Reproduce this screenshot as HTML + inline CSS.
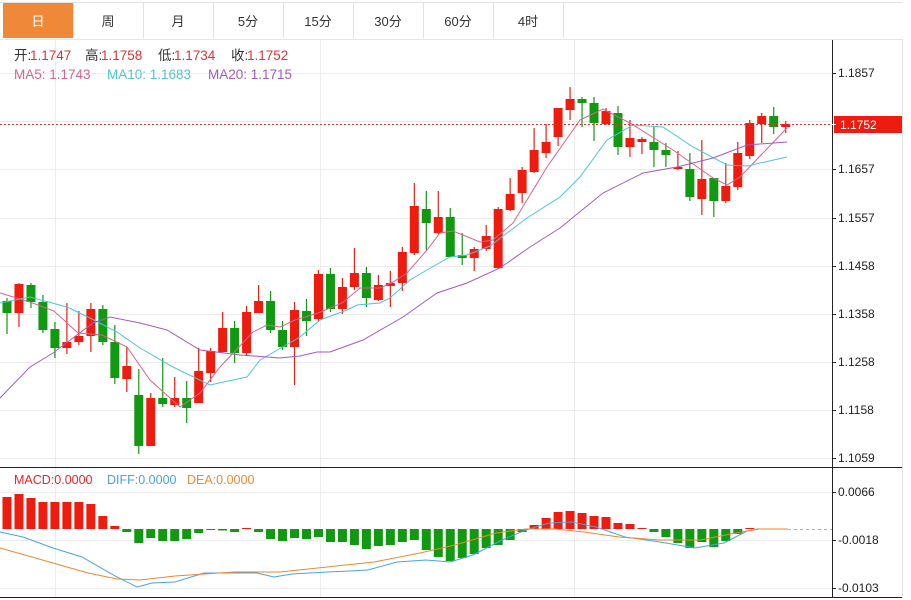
<!DOCTYPE html>
<html><head><meta charset="utf-8"><style>
html,body{margin:0;padding:0;background:#fff;width:911px;height:600px;overflow:hidden;font-family:"Liberation Sans","Noto Sans CJK SC",sans-serif}
svg{position:absolute;left:0;top:0}
</style></head><body>
<svg id="s" width="911" height="600" xmlns="http://www.w3.org/2000/svg" font-family="Liberation Sans, Noto Sans CJK SC, sans-serif"></svg>
<script>
var s='';
function L(x1,y1,x2,y2,c,w,d){s+='<line x1="'+x1+'" y1="'+y1+'" x2="'+x2+'" y2="'+y2+'" stroke="'+c+'" stroke-width="'+(w||1)+'"'+(d?' stroke-dasharray="'+d+'"':'')+'/>';}
function R(x,y,w,h,f,st){s+='<rect x="'+x+'" y="'+y+'" width="'+w+'" height="'+h+'" fill="'+f+'"'+(st?' stroke="'+st+'"':'')+'/>';}
function T(x,y,t,c,sz,a){s+='<text x="'+x+'" y="'+y+'" fill="'+c+'" font-size="'+(sz||12)+'"'+(a?' text-anchor="'+a+'"':'')+'>'+t+'</text>';}
function P(pts,c,w){s+='<polyline fill="none" stroke="'+c+'" stroke-width="'+(w||1)+'" points="'+pts.map(function(p){return p.join(',')}).join(' ')+'"/>';}
var tabs=['日','周','月','5分','15分','30分','60分','4时'];
L(0,2.5,902,2.5,'#e2e2e2');
for(var i=0;i<8;i++){var x=3+i*70;
 if(i==0)R(x,3,70,35,'#f0883a');
 L(x+70.5,3,x+70.5,38,'#e2e2e2');
 T(x+35,26,tabs[i],i==0?'#fff':'#333',13,'middle');}
L(0,39.5,902,39.5,'#e6e6e6');L(902.5,39,902.5,598,'#e6e6e6');
[73,121,169,218,266,314,362,410,458].forEach(function(y){L(0,y+.5,832,y+.5,'#ececec');});
[492,540,588].forEach(function(y){L(0,y+.5,832,y+.5,'#ececec');});
[55,320,574].forEach(function(x){L(x+.5,40,x+.5,598,'#ececec');});
var G='#119911',Rd='#ee1c0e';
var c=[[301,313,298,334,G],[313,284,283,327,Rd],[285,302,283,308,G],[302,330,295,333,G],[329,348,322,358,G],[348,342,303,354,Rd],[342,336,311,345,Rd],[336,309,303,352,Rd],[309,342,305,345,G],[342,378,325,384,G],[379,366,347,392,Rd],[395,446,369,454,G],[446,398,393,446,Rd],[398,404,358,407,G],[405,398,377,407,Rd],[398,408,381,423,G],[403,371,348,403,Rd],[373,351,348,382,Rd],[352,328,312,353,Rd],[328,353,321,363,G],[353,312,306,355,Rd],[313,301,285,313,Rd],[301,330,291,333,G],[330,347,321,350,G],[347,310,302,385,Rd],[311,321,299,336,G],[319,274,270,322,Rd],[274,309,268,312,G],[309,287,278,314,Rd],[287,273,248,290,Rd],[273,298,267,307,G],[300,285,275,301,Rd],[286,283,271,307,Rd],[283,252,247,291,Rd],[253,206,183,255,Rd],[209,223,191,250,G],[233,217,191,234,Rd],[217,257,208,257,G],[256,257,233,265,G],[258,249,247,271,Rd],[249,236,225,251,Rd],[268,209,207,269,Rd],[210,194,178,211,Rd],[193,170,167,203,Rd],[172,150,128,173,Rd],[153,142,124,158,Rd],[137,108,108,146,Rd],[110,99,87,120,Rd],[99,103,97,127,G],[103,123,97,141,G],[124,111,108,125,Rd],[113,147,106,155,G],[147,138,120,157,Rd],[141,140,137,154,Rd],[142,150,127,167,G],[150,155,143,167,G],[169,167,151,170,Rd],[169,197,153,201,G],[199,179,140,215,Rd],[178,201,178,217,G],[201,186,163,203,Rd],[187,153,142,190,Rd],[156,123,120,159,Rd],[124,116,113,143,Rd],[116,127,107,134,G],[127,124,121,133,Rd]];
c.forEach(function(d,i){var x=7+i*11.98;
 L(x,d[2],x,d[3],d[4],1.2);
 var t=Math.min(d[0],d[1]),b=Math.max(d[0],d[1]);if(b-t<2){t-=1;b+=1;}
 R(x-4.5,t,9,b-t,d[4]);});
P([[0,293],[30,302],[54,311],[78,333],[102,335],[127,347],[150,380],[180,407],[200,393],[220,367],[253,332],[267,325],[280,327],[295,320],[318,313],[342,303],[360,288],[380,288],[393,282],[407,273],[427,250],[440,233],[453,231],[480,242],[493,240],[513,223],[547,167],[580,120],[603,109],[630,123],[673,150],[713,178],[727,185],[740,177],[787,128]],'#d9628e');
P([[0,303],[30,297],[67,307],[90,318],[117,332],[140,348],[173,367],[210,385],[247,377],[260,360],[300,337],[320,320],[347,310],[357,305],[380,303],[390,298],[410,280],[427,270],[450,257],[467,255],[490,246],[507,233],[527,218],[560,197],[580,177],[607,140],[633,125],[663,127],[693,147],[727,165],[747,166],[787,157]],'#4fc3d3');
P([[0,398],[30,367],[53,353],[93,323],[110,317],[140,323],[167,330],[200,350],[240,355],[280,358],[300,356],[317,352],[330,352],[363,340],[403,317],[437,293],[467,283],[500,268],[530,247],[560,228],[603,193],[643,173],[677,167],[713,158],[747,145],[787,142]],'#a45ac0');
L(0,124.5,832,124.5,'#e03030',1,'2,2');
var mb=[497,494,498,502,502,502,502,504,516,526,532,543,538,541,541,539,533,530,530.5,532,528,532,539,541,538,539,537,542,542,545,549,546,545,542,540,550,557,561,558,554,548,545,540,532,525,518,512,511,513,516,517,523,524,528,532,537,543,548,542,547,541,534,528,528.5,528.5,529];
mb.forEach(function(y,i){var x=7+i*11.98;var z=529;
 if(y<z)R(x-4.5,y,9,z-y,Rd);else if(y>z)R(x-4.5,z,9,y-z,G);});
P([[0,532],[23,537],[53,548],[82,557],[117,577],[137,587],[152,583],[175,582],[204,573],[234,573],[257,573],[274,577],[292,574],[327,572],[350,571],[368,570],[397,562],[426,560],[450,562],[473,555],[502,540],[526,530],[549,523],[572,522],[596,527],[625,537],[660,542],[695,548],[724,543],[747,531],[759,529],[788,529]],'#4aa3df');
P([[0,548],[53,563],[88,573],[117,579],[140,580],[175,576],[234,572],[280,572],[327,567],[374,562],[420,553],[455,545],[496,533],[526,529],[555,529],[584,532],[619,537],[660,540],[700,540],[736,533],[759,529],[788,529]],'#e98a2e');
L(788,529.5,832,529.5,'#7fc4d8',1,'3,3');
L(832.5,40,832.5,598,'#222');L(0,467.5,902,467.5,'#222');L(0,597.5,902,597.5,'#222');
[[73,'1.1857'],[169,'1.1657'],[218,'1.1557'],[266,'1.1458'],[314,'1.1358'],[362,'1.1258'],[410,'1.1158'],[458,'1.1059'],[492,'0.0066'],[540,'-0.0018'],[588,'-0.0103']].forEach(function(d){L(832,d[0]+.5,836,d[0]+.5,'#222');T(838,d[0]+4,d[1],'#222',12);});
R(834,116,68,17,'#ee1c0e');L(832,124.5,836,124.5,'#fff');T(840,129,'1.1752','#fff',12);
function LT(x,y,parts,sz){parts.forEach(function(p){T(p[0],y,p[1],p[2],sz);});}
LT(0,60,[[14,'开:','#333'],[30,'1.1747','#d33'],[85,'高:','#333'],[101,'1.1758','#d33'],[158,'低:','#333'],[174,'1.1734','#d33'],[231,'收:','#333'],[247,'1.1752','#d33']],13.5);
LT(0,79,[[14,'MA5: 1.1743','#d9628e'],[107,'MA10: 1.1683','#4fc3d3'],[208,'MA20: 1.1715','#a45ac0']],13.5);
LT(0,484,[[14,'MACD:0.0000','#e22'],[107,'DIFF:0.0000','#4aa3df'],[187,'DEA:0.0000','#e98a2e']],12.5);
document.getElementById('s').innerHTML=s;
</script>
</body></html>
